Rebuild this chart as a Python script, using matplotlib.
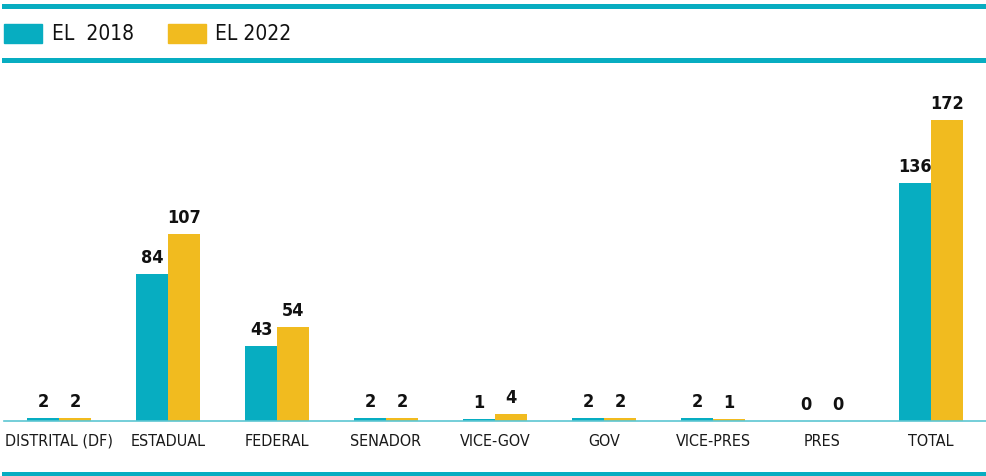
import numpy as np
import matplotlib.pyplot as plt
from matplotlib.patches import Rectangle
from matplotlib.lines import Line2D

categories = ['DISTRITAL (DF)', 'ESTADUAL', 'FEDERAL', 'SENADOR', 'VICE-GOV',
              'GOV', 'VICE-PRES', 'PRES', 'TOTAL']
el_2018 = [2, 84, 43, 2, 1, 2, 2, 0, 136]
el_2022 = [2, 107, 54, 2, 4, 2, 1, 0, 172]
series_names = ['EL  2018', 'EL 2022']

TEAL = '#07adc1'
YELLOW = '#f1bb1f'

plt.rcParams['font.family'] = ['DejaVu Sans']
plt.rcParams['font.stretch'] = 'condensed'

W, H = 986, 476
fig = plt.figure(figsize=(W / 100, H / 100), dpi=100)

# axes in pixel terms: baseline at y=421, top at y=70
left, right = 4, 986
bottom, top = 421, 70
ax = fig.add_axes([left / W, 1 - bottom / H, (right - left) / W, (bottom - top) / H])

x = np.arange(len(categories))
bw = 32 / 109
ax.bar(x - bw / 2, el_2018, bw, color=TEAL, zorder=2)
ax.bar(x + bw / 2, el_2022, bw, color=YELLOW, zorder=2)

for xi, v in zip(x, el_2018):
    ax.annotate(str(v), (xi - bw / 2, v), xytext=(0, 5), textcoords='offset points',
                ha='center', va='bottom', fontsize=13, fontweight='bold', color='#111111')
for xi, v in zip(x, el_2022):
    ax.annotate(str(v), (xi + bw / 2, v), xytext=(0, 5), textcoords='offset points',
                ha='center', va='bottom', fontsize=13, fontweight='bold', color='#111111')

ax.set_xlim(-55 / 109, (986 - 4 - 55) / 109)
ax.set_ylim(0, (bottom - top) / 1.75)
ax.set_xticks(x)
ax.set_xticklabels(categories, fontsize=11.5, color='#1a1a1a')
ax.tick_params(axis='x', length=0, pad=9)
ax.set_yticks([])
for s in ['top', 'right', 'left']:
    ax.spines[s].set_visible(False)
ax.spines['bottom'].set_color('#5cc6d2')
ax.spines['bottom'].set_linewidth(1.2)

# decorative rules
for yy, lw in [(5.8, 3.6), (59.7, 3.6), (474, 3.6)]:
    fig.add_artist(Line2D([4 / W, 1], [1 - yy / H, 1 - yy / H], color=TEAL, lw=lw,
                          transform=fig.transFigure))

# legend
for (x0, col, name, tx) in [(4, TEAL, series_names[0], 52), (168, YELLOW, series_names[1], 215)]:
    fig.add_artist(Rectangle((x0 / W, 1 - 43 / H), 38 / W, 19 / H, color=col,
                             transform=fig.transFigure))
    fig.text(tx / W, 1 - 34 / H, name, fontsize=15, va='center', ha='left', color='#111111')

fig.savefig('out.png', dpi=100)
